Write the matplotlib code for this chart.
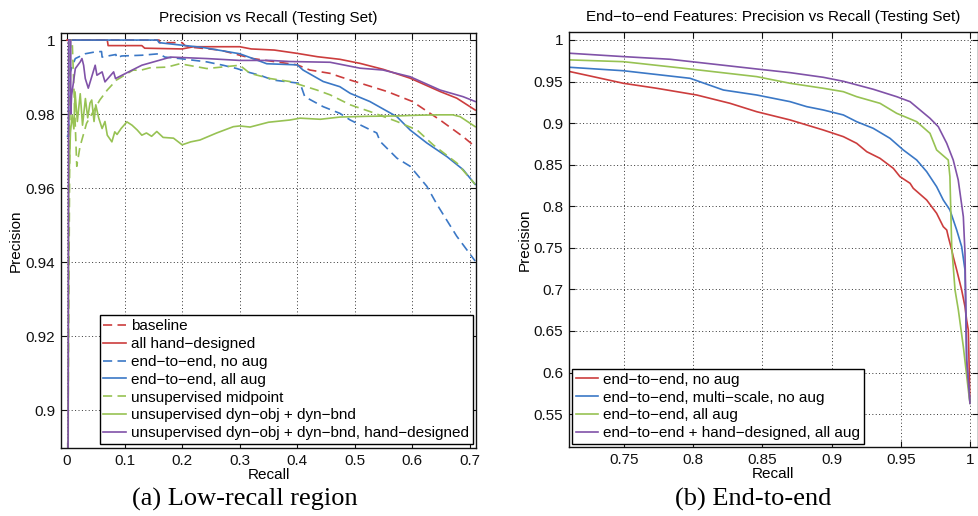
import matplotlib
matplotlib.use("Agg")
import matplotlib.pyplot as plt
from matplotlib.ticker import FormatStrFormatter

plt.rcParams['font.family'] = ['Liberation Sans', 'DejaVu Sans']
plt.rcParams['font.size'] = 11

RED = '#cc3d3d'
BLUE = '#3b78c6'
GREEN = '#97c253'
PURPLE = '#8052a8'

# ---- (a) low-recall region ----
baseline_r = [0.0, 0.16, 0.161, 0.2, 0.205, 0.22, 0.266, 0.3, 0.323, 0.4, 0.422, 0.457,
              0.474, 0.492, 0.556, 0.6, 0.648, 0.688, 0.709]
baseline_p = [1.0, 1.0, 0.9993, 0.9993, 0.9985, 0.998, 0.9973, 0.9959, 0.995, 0.9933, 0.9919,
              0.9910, 0.9901, 0.9892, 0.9861, 0.9834, 0.9784, 0.9739, 0.9712]

hand_r = [0.0, 0.07, 0.0715, 0.13, 0.135, 0.2, 0.22, 0.3, 0.32, 0.36, 0.4, 0.435, 0.474,
          0.509, 0.549, 0.596, 0.648, 0.677, 0.709]
hand_p = [1.0, 1.0, 0.9985, 0.9985, 0.9978, 0.9976, 0.9982, 0.9982, 0.9976, 0.9973, 0.9964,
          0.9955, 0.9948, 0.9937, 0.9921, 0.9897, 0.9861, 0.9843, 0.9811]

e2e_noaug_r = [0.001, 0.003, 0.0035, 0.0144, 0.0318, 0.049, 0.06, 0.061, 0.078, 0.085, 0.086,
               0.095, 0.13, 0.16, 0.17, 0.196, 0.243, 0.271, 0.295, 0.313, 0.335, 0.358,
               0.405, 0.413, 0.445, 0.474, 0.492, 0.538, 0.544, 0.573, 0.596, 0.625, 0.643,
               0.677, 0.709]
e2e_noaug_p = [0.975, 0.975, 0.9905, 0.995, 0.9963, 0.9968, 0.9969, 0.9954, 0.9959, 0.9961,
               0.9952, 0.9957, 0.9959, 0.9963, 0.9954, 0.995, 0.9941, 0.9932, 0.9923, 0.9914,
               0.9905, 0.9892, 0.9883, 0.9847, 0.982, 0.9802, 0.9784, 0.9749, 0.9726, 0.9681,
               0.9659, 0.9605, 0.9555, 0.947, 0.9403]

e2e_allaug_r = [0.001, 0.003, 0.0031, 0.157, 0.16, 0.2, 0.236, 0.3, 0.323, 0.347, 0.4, 0.41,
                0.445, 0.474, 0.492, 0.526, 0.573, 0.596, 0.625, 0.66, 0.688, 0.709]
e2e_allaug_p = [0.974, 0.974, 1.0, 1.0, 0.9993, 0.9986, 0.998, 0.9963, 0.995, 0.9936, 0.9933,
                0.9919, 0.9888, 0.9874, 0.9856, 0.9834, 0.9793, 0.9757, 0.9722, 0.9685,
                0.965, 0.961]

midpoint_r = [0.002, 0.006, 0.009, 0.017, 0.0226, 0.034, 0.057, 0.07, 0.086, 0.1, 0.115,
              0.127, 0.144, 0.174, 0.196, 0.243, 0.3, 0.318, 0.353, 0.387, 0.434, 0.457,
              0.492, 0.526, 0.573, 0.608, 0.636, 0.677, 0.709]
midpoint_p = [0.90, 1.0, 1.0, 0.9659, 0.9712, 0.9775, 0.9838, 0.9865, 0.9892, 0.9905, 0.9919,
              0.9918, 0.9925, 0.9927, 0.9936, 0.9923, 0.9932, 0.991, 0.9896, 0.9888, 0.9865,
              0.9852, 0.9825, 0.9807, 0.978, 0.9757, 0.9717, 0.9668, 0.961]

dyn_r = [0.001, 0.003, 0.006, 0.009, 0.012, 0.014, 0.018, 0.023, 0.027, 0.032, 0.036, 0.040,
         0.043, 0.047, 0.050, 0.055, 0.061, 0.066, 0.070, 0.078, 0.083, 0.087, 0.094, 0.099,
         0.104, 0.113, 0.122, 0.130, 0.138, 0.147, 0.156, 0.167, 0.185, 0.200, 0.215, 0.231,
         0.26, 0.289, 0.30, 0.318, 0.35, 0.387, 0.405, 0.44, 0.474, 0.52, 0.573, 0.61, 0.648,
         0.67, 0.683, 0.709]
dyn_p = [0.80, 0.96, 0.975, 0.9797, 0.976, 0.986, 0.978, 0.9855, 0.977, 0.9842, 0.979, 0.983,
         0.9838, 0.978, 0.9825, 0.979, 0.9761, 0.978, 0.9743, 0.9725, 0.9752, 0.9745, 0.9761,
         0.9770, 0.9779, 0.9770, 0.9757, 0.9743, 0.9749, 0.9740, 0.9753, 0.9737, 0.9735,
         0.9717, 0.9725, 0.973, 0.9749, 0.9766, 0.9768, 0.9765, 0.9778, 0.9784, 0.9789,
         0.9786, 0.9792, 0.9794, 0.9795, 0.9797, 0.9798, 0.9798, 0.9793, 0.9766]

dyn_hand_r = [0.001, 0.003, 0.0065, 0.0066, 0.008, 0.0145, 0.023, 0.026, 0.0289, 0.0318,
              0.037, 0.049, 0.052, 0.061, 0.066, 0.081, 0.0843, 0.107, 0.13, 0.18, 0.243,
              0.3, 0.353, 0.387, 0.457, 0.509, 0.549, 0.596, 0.648, 0.688, 0.709]
dyn_hand_p = [0.80, 1.0, 1.0, 0.980, 0.985, 0.9923, 0.9941, 0.995, 0.9932, 0.9896, 0.987,
              0.9932, 0.9905, 0.9914, 0.9887, 0.9914, 0.9896, 0.9914, 0.9932, 0.9954, 0.995,
              0.9945, 0.9945, 0.9942, 0.994, 0.9924, 0.9919, 0.9901, 0.9865, 0.9847, 0.9834]

left_series = [
    (baseline_r, baseline_p, RED, '--', 'baseline'),
    (hand_r, hand_p, RED, '-', 'all hand\u2212designed'),
    (e2e_noaug_r, e2e_noaug_p, BLUE, '--', 'end\u2212to\u2212end, no aug'),
    (e2e_allaug_r, e2e_allaug_p, BLUE, '-', 'end\u2212to\u2212end, all aug'),
    (midpoint_r, midpoint_p, GREEN, '--', 'unsupervised midpoint'),
    (dyn_r, dyn_p, GREEN, '-', 'unsupervised dyn\u2212obj + dyn\u2212bnd'),
    (dyn_hand_r, dyn_hand_p, PURPLE, '-', 'unsupervised dyn\u2212obj + dyn\u2212bnd, hand\u2212designed'),
]
left_xticks = [0, 0.1, 0.2, 0.3, 0.4, 0.5, 0.6, 0.7]
left_yticks = [0.9, 0.92, 0.94, 0.96, 0.98, 1.0]

# ---- (b) end-to-end ----
b_red_r = [0.711, 0.7254, 0.7495, 0.7736, 0.8025, 0.8266, 0.8459, 0.87, 0.894, 0.9085, 0.9181,
           0.9254, 0.935, 0.9446, 0.9494, 0.9567, 0.959, 0.9687, 0.9759, 0.9807, 0.9832,
           0.9843, 0.9868, 0.9879, 0.9904, 0.994, 0.9964, 0.9976, 0.9988, 1.0]
b_red_p = [0.9619, 0.9567, 0.9479, 0.9419, 0.9338, 0.9238, 0.9137, 0.9038, 0.8917, 0.8837,
           0.8757, 0.8656, 0.8576, 0.8456, 0.8356, 0.8276, 0.8216, 0.8075, 0.7915, 0.7754,
           0.7714, 0.7634, 0.7474, 0.7393, 0.7233, 0.6992, 0.6791, 0.6631, 0.6511, 0.563]

b_blue_r = [0.711, 0.7495, 0.7977, 0.8218, 0.8459, 0.87, 0.882, 0.894, 0.9085, 0.9181, 0.93,
            0.9422, 0.9518, 0.9615, 0.9687, 0.9759, 0.9807, 0.9855, 0.9904, 0.994, 0.9964,
            0.9976, 1.0]
b_blue_p = [0.9671, 0.963, 0.9539, 0.9398, 0.9338, 0.9258, 0.9198, 0.9158, 0.9098, 0.9017,
            0.8938, 0.8817, 0.8677, 0.8556, 0.8416, 0.8235, 0.8075, 0.7955, 0.7714, 0.7513,
            0.7233, 0.615, 0.563]

b_green_r = [0.711, 0.7495, 0.7977, 0.8459, 0.87, 0.894, 0.9085, 0.9181, 0.935, 0.947,
             0.9615, 0.9711, 0.9759, 0.9843, 0.9855, 0.9868, 0.9892, 0.9916, 0.9952, 0.9988,
             1.0]
b_green_p = [0.976, 0.9739, 0.9651, 0.9559, 0.9479, 0.9419, 0.9378, 0.9318, 0.9238, 0.9118,
             0.9017, 0.8877, 0.8677, 0.8556, 0.8356, 0.7513, 0.6992, 0.6752, 0.631, 0.5789,
             0.563]

b_purple_r = [0.711, 0.7495, 0.7832, 0.8025, 0.8459, 0.87, 0.894, 0.9085, 0.9301, 0.947,
              0.9567, 0.9639, 0.9711, 0.9771, 0.9832, 0.9879, 0.9915, 0.9952, 0.9964, 0.9976,
              1.0]
b_purple_p = [0.984, 0.98, 0.9768, 0.9732, 0.9651, 0.9607, 0.9551, 0.9503, 0.9407, 0.9318,
              0.9258, 0.9158, 0.9058, 0.8957, 0.8757, 0.8556, 0.8316, 0.7874, 0.7434, 0.615,
              0.563]

right_series = [
    (b_red_r, b_red_p, RED, 'end\u2212to\u2212end, no aug'),
    (b_blue_r, b_blue_p, BLUE, 'end\u2212to\u2212end, multi\u2212scale, no aug'),
    (b_green_r, b_green_p, GREEN, 'end\u2212to\u2212end, all aug'),
    (b_purple_r, b_purple_p, PURPLE, 'end\u2212to\u2212end + hand\u2212designed, all aug'),
]
right_xticks = [0.75, 0.8, 0.85, 0.9, 0.95, 1.0]
right_yticks = [0.55, 0.6, 0.65, 0.7, 0.75, 0.8, 0.85, 0.9, 0.95, 1.0]


def style_axes(ax, xticks, yticks):
    ax.set_xticks(xticks)
    ax.set_yticks(yticks)
    ax.xaxis.set_major_formatter(FormatStrFormatter('%g'))
    ax.yaxis.set_major_formatter(FormatStrFormatter('%g'))
    ax.tick_params(direction='in', length=4, width=0.8, top=True, right=True,
                   labelsize=11, pad=4, colors='#111111')
    ax.grid(True, color='#333333', linestyle=(0, (1, 2.5)), linewidth=0.7)
    for s in ax.spines.values():
        s.set_linewidth(1.0)
        s.set_color('#111111')


fig = plt.figure(figsize=(9.79, 5.16), dpi=100)

ax1 = fig.add_axes([0.0623, 0.1318, 0.4239, 0.8042])
for r, p, c, ls, lab in left_series:
    if ls == '--':
        ax1.plot(r, p, color=c, lw=1.2, linestyle='--', dashes=(5.5, 3.2), label=lab)
    else:
        ax1.plot(r, p, color=c, lw=1.2, label=lab)
ax1.set_xlim(-0.0104, 0.7104)
ax1.set_ylim(0.8898, 1.0019)
style_axes(ax1, left_xticks, left_yticks)
ax1.set_title('Precision vs Recall (Testing Set)', fontsize=11, pad=8)
ax1.set_xlabel('Recall', fontsize=11, labelpad=0)
ax1.set_ylabel('Precision', fontsize=11, labelpad=2)
leg1 = ax1.legend(loc='lower right', bbox_to_anchor=(0.992, 0.0096), borderaxespad=0,
                  fontsize=11, handlelength=1.5, handletextpad=0.3, labelspacing=0.25,
                  borderpad=0.25, fancybox=False, framealpha=1, edgecolor='black')
leg1.get_frame().set_linewidth(1.0)

ax2 = fig.add_axes([0.5809, 0.1331, 0.4178, 0.8049])
for r, p, c, lab in right_series:
    ax2.plot(r, p, color=c, lw=1.2, label=lab)
ax2.set_xlim(0.71, 1.0056)
ax2.set_ylim(0.51, 1.0096)
style_axes(ax2, right_xticks, right_yticks)
ax2.set_title('End\u2212to\u2212end Features: Precision vs Recall (Testing Set)', fontsize=11, pad=8)
ax2.set_xlabel('Recall', fontsize=11, labelpad=0)
ax2.set_ylabel('Precision', fontsize=11, labelpad=1)
leg2 = ax2.legend(loc='lower left', bbox_to_anchor=(0.0073, 0.008), borderaxespad=0,
                  fontsize=11, handlelength=1.5, handletextpad=0.3, labelspacing=0.25,
                  borderpad=0.25, fancybox=False, framealpha=1, edgecolor='black')
leg2.get_frame().set_linewidth(1.0)

fig.text(0.2503, 0.033, '(a) Low-recall region', ha='center', va='center',
         family='Liberation Serif', fontsize=19)
fig.text(0.769, 0.033, '(b) End-to-end', ha='center', va='center',
         family='Liberation Serif', fontsize=19)

fig.savefig('out.png', dpi=100)
